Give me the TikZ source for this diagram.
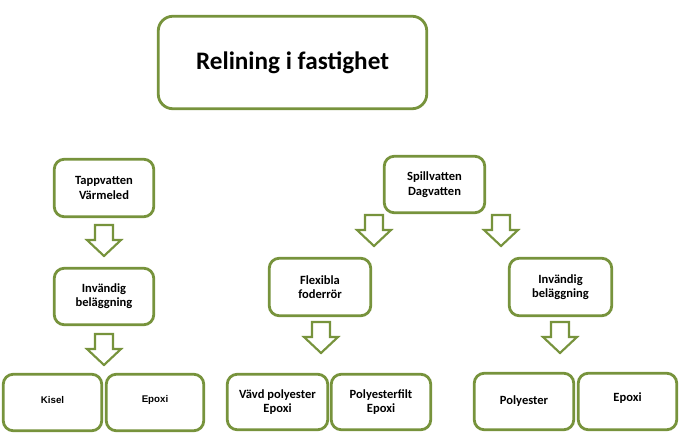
\documentclass[tikz,border=0pt]{standalone}
\usepackage{fontspec}
\setmainfont{Carlito}
\newfontfamily\arialfont{Liberation Sans}
\definecolor{olivegreen}{HTML}{77933C}
\begin{document}
\begin{tikzpicture}[x=0.75pt,y=-0.75pt,
  box/.style={draw=olivegreen, line width=2.1pt, rounded corners=7.5pt, fill=white,
    align=center, inner sep=0pt, font=\bfseries\fontsize{9.4}{11}\selectfont},
  sz/.style 2 args={minimum width=#1*0.75pt, minimum height=#2*0.75pt},
  arrowline/.style={draw=olivegreen, line width=1.6pt, fill=white, line join=miter},
  blockdown/.pic={\draw[arrowline] (-9,0) -- (9,0) -- (9,15) -- (17,15) -- (0,31) -- (-17,15) -- (-9,15) -- cycle;}
]
\useasboundingbox (0,0) rectangle (684,441);

% title
\node[box, sz={268.5}{92.5}, rounded corners=11pt, font=\bfseries\fontsize{18.9}{22}\selectfont] (title) at (292.5,62.5) {Relining i fastighet};

% left column
\node[box, sz={99.5}{57.5}] (tapp) at (104,188) {Tappvatten\\Värmeled};
\node[box, sz={99.5}{56.5}] (invL) at (104,296.5) {\raisebox{5pt}{\begin{tabular}{@{}c@{}}Invändig\\beläggning\end{tabular}}};
\node[box, sz={98.5}{56.5}, font=\arialfont\bfseries\fontsize{7.3}{9}\selectfont] (kisel) at (52.5,402.5) {\raisebox{4pt}{Kisel}};
\node[box, sz={97.5}{56.5}, font=\arialfont\bfseries\fontsize{7.3}{9}\selectfont] (epoxiL) at (155,402.5) {\raisebox{6pt}{Epoxi}};

% right part
\node[box, sz={100.5}{56.5}] (spill) at (434.5,184.5) {Spillvatten\\Dagvatten};
\node[box, sz={101.5}{57.5}] (flex) at (320,287) {Flexibla\\foderrör};
\node[box, sz={102.5}{57.5}] (invR) at (560.5,287) {Invändig\\beläggning};
\node[box, sz={100.5}{55.5}] (vavd) at (277.5,402) {Vävd polyester\\Epoxi};
\node[box, sz={99.5}{55.5}] (pfilt) at (381,402) {Polyesterfilt\\Epoxi};
\node[box, sz={99.5}{56.5}] (poly) at (524,401.5) {Polyester};
\node[box, sz={98.5}{56.5}] (epoxiR) at (627.5,401.5) {\raisebox{6pt}{Epoxi}};

% block arrows
\pic (a1) at (104,225) {blockdown};
\pic (a2) at (104,334) {blockdown};
\pic (a3) at (374,215) {blockdown};
\pic (a4) at (501,215) {blockdown};
\pic (a5) at (321,322) {blockdown};
\pic (a6) at (560,322) {blockdown};
\end{tikzpicture}
\end{document}
